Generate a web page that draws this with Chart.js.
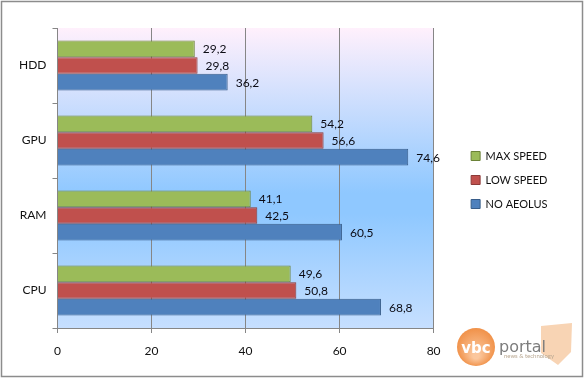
<!DOCTYPE html>
<html><head><meta charset="utf-8">
<script src="https://cdn.jsdelivr.net/npm/chart.js@4/dist/chart.umd.js"></script>
<style>html,body{margin:0;padding:0;background:#fff}canvas{display:block}</style></head>
<body><canvas id="c" width="584" height="378" style="width:584px;height:378px"></canvas>
<script>
const categories = ["HDD","GPU","RAM","CPU"];
const maxSpeed = [29.2,54.2,41.1,49.6];
const lowSpeed = [29.8,56.6,42.5,50.8];
const noAeolus = [36.2,74.6,60.5,68.8];
const xTicks = [0,20,40,60,80];
const FONT = "Lato";
const comma = v => v.toFixed(1).replace(".", ",");

const decor = {
  id:"decor",
  beforeDraw(c){
    const x=c.ctx, a=c.chartArea;
    x.save();
    const g=x.createLinearGradient(0,a.top,0,a.bottom);
    g.addColorStop(0,"#fff0fc");
    g.addColorStop(0.55,"#8fc8ff");
    g.addColorStop(0.62,"#8fc8ff");
    g.addColorStop(1,"#c6dfff");
    x.fillStyle=g; x.fillRect(a.left,a.top,a.right-a.left,a.bottom-a.top);
    x.strokeStyle="#8c8c8c"; x.lineWidth=1.5;
    x.strokeRect(1.5,1.5,581,375);
    x.restore();
  },
  afterLayout(c){
    const l=c.legend, a=c.chartArea;
    const d=(a.right+24.5)-l.left;
    l.left+=d; l.right+=d;
    l.top-=23; l.bottom-=23;
  },
  afterDatasetsDraw(c){
    const x=c.ctx;
    x.save();
    x.font="12px "+FONT; x.fillStyle="#0b0b14"; x.textBaseline="middle"; x.textAlign="left";
    c.data.datasets.forEach((ds,i)=>{
      c.getDatasetMeta(i).data.forEach((el,j)=>{
        x.fillText(comma(ds.data[j]),el.x+8,el.y+0.5);
      });
    });
    // watermark
    const g=x.createRadialGradient(476,356,3,476,347,20);
    g.addColorStop(0,"#fbc79d"); g.addColorStop(1,"#f08f45");
    x.fillStyle=g; x.beginPath(); x.arc(476,347,19,0,Math.PI*2); x.fill();
    x.fillStyle="#f8d4b4";
    x.beginPath(); x.moveTo(541,326); x.lineTo(572,323); x.lineTo(571,352); x.lineTo(558,365); x.lineTo(541,353); x.closePath(); x.fill();
    x.fillStyle="#fff"; x.font="bold 15px 'DejaVu Sans'"; x.textAlign="center"; x.fillText("vbc",476,349,34);
    x.fillStyle="#7d7d7d"; x.font="16px 'DejaVu Sans'"; x.textAlign="left"; x.fillText("portal",499,348,58);
    x.fillStyle="#b9a892"; x.font="6px "+FONT; x.fillText("news & technology",504,356,50);
    x.restore();
  }
};

new Chart(document.getElementById("c"),{
  type:"bar",
  data:{labels:categories,datasets:[
    {label:"MAX SPEED",data:maxSpeed,backgroundColor:"#9bbb59",borderColor:"#6b8238",borderWidth:1},
    {label:"LOW SPEED",data:lowSpeed,backgroundColor:"#c0504d",borderColor:"#8c3a38",borderWidth:1},
    {label:"NO AEOLUS",data:noAeolus,backgroundColor:"#4f81bd",borderColor:"#385d8a",borderWidth:1}
  ]},
  plugins:[decor],
  options:{
    indexAxis:"y",responsive:false,animation:false,
    layout:{padding:{top:28,left:0,right:51,bottom:0}},
    datasets:{bar:{categoryPercentage:0.667,barPercentage:1}},
    plugins:{
      tooltip:{enabled:false},
      legend:{position:"right",labels:{boxWidth:9,boxHeight:9,padding:13,color:"#111",font:{family:FONT,size:11}}}
    },
    scales:{
      x:{min:0,max:80,position:"bottom",
        afterBuildTicks(s){s.ticks=xTicks.map(v=>({value:v}));},
        afterFit(s){s.height=50;},
        border:{color:"#868686"},
        grid:{color:"#868686",tickLength:5,tickColor:"#868686"},
        ticks:{color:"#111",padding:11,maxRotation:0,font:{family:FONT,size:12}}},
      y:{position:"left",
        afterFit(s){s.width=57.5;},
        border:{color:"#868686"},
        grid:{drawOnChartArea:false,offset:true,tickLength:5,tickColor:"#868686"},
        ticks:{color:"#111",padding:6,font:{family:FONT,size:12}}}
    }
  }
});
</script></body></html>
